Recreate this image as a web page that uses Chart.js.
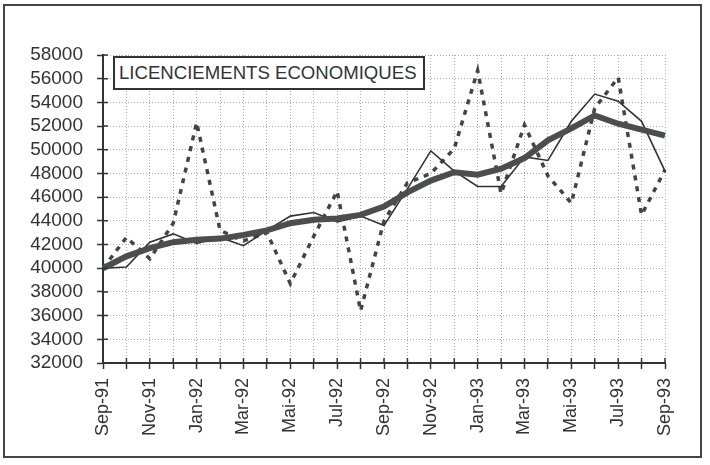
<!DOCTYPE html>
<html>
<head>
<meta charset="utf-8">
<script src="https://cdn.jsdelivr.net/npm/chart.js@4/dist/chart.umd.min.js"></script>
<style>
    body { margin: 0; background: #fff; }
    #cadre {
        position: absolute; left: 3px; top: 4px;
        width: 699px; height: 454px;
        box-sizing: border-box;
        border: 2px solid #444;
    }
    #titre {
        position: absolute; left: 113px; top: 56px;
        width: 312px; height: 34px;
        box-sizing: border-box;
        border: 2px solid #333;
        background: #fff;
        font: 18.6px "Liberation Sans", Arial, sans-serif;
        color: #333;
        line-height: 30px;
        padding-left: 4px;
        white-space: nowrap;
        z-index: 2;
    }
</style>
</head>
<body>
<div id="cadre"><canvas id="graphe" width="695" height="450"></canvas></div>
<div id="titre">LICENCIEMENTS ECONOMIQUES</div>
<script>
// Mois de Sep-91 à Sep-93
const mois = ['Sep-91', 'Oct-91', 'Nov-91', 'Dec-91', 'Jan-92', 'Fev-92', 'Mar-92', 'Avr-92',
    'Mai-92', 'Jun-92', 'Jul-92', 'Aou-92', 'Sep-92', 'Oct-92', 'Nov-92', 'Dec-92',
    'Jan-93', 'Fev-93', 'Mar-93', 'Avr-93', 'Mai-93', 'Jun-93', 'Jul-93', 'Aou-93', 'Sep-93'];

// Série brute (pointillés)
const brute = [40000, 42600, 40800, 43800, 52300, 43200, 42300, 43000,
    38700, 42700, 46500, 36400, 44000, 47200, 48000, 50100,
    56700, 46300, 52100, 47800, 45500, 53500, 56100, 44500, 48300];

// Série corrigée des variations saisonnières (trait fin)
const cvs = [40000, 40100, 42200, 42900, 42100, 42600, 41900, 43200,
    44400, 44700, 43900, 44400, 43600, 46700, 49900, 48200,
    46900, 46900, 49400, 49100, 52400, 54700, 54100, 52400, 48200];

// Tendance (trait épais)
const tendance = [40000, 41000, 41700, 42200, 42400, 42500, 42800, 43200,
    43800, 44100, 44200, 44500, 45200, 46400, 47400, 48100,
    47900, 48400, 49300, 50800, 51800, 52900, 52200, 51700, 51200];

const axeMin = 32000;
const axeMax = 58000;
const pas = 2000;

// Petites graduations vers l'intérieur (les axes ont des croix)
const graduationsInternes = {
    id: 'graduationsInternes',
    afterDatasetsDraw(chart) {
        const ctx = chart.ctx;
        const x = chart.scales.x;
        const y = chart.scales.y;
        ctx.save();
        ctx.strokeStyle = '#333';
        ctx.lineWidth = 1.5;
        ctx.beginPath();
        x.ticks.forEach((t, i) => {
            const px = x.getPixelForTick(i);
            ctx.moveTo(px, y.bottom);
            ctx.lineTo(px, y.bottom - 5);
        });
        y.ticks.forEach((t, i) => {
            const py = y.getPixelForTick(i);
            ctx.moveTo(x.left, py);
            ctx.lineTo(x.left + 5, py);
        });
        ctx.stroke();
        ctx.restore();
    }
};

const police = { family: '"Liberation Sans", Arial, sans-serif', size: 18 };

new Chart(document.getElementById('graphe'), {
    type: 'line',
    data: {
        labels: mois,
        datasets: [{
            label: 'Tendance',
            data: tendance,
            borderColor: '#4a4f4e',
            borderWidth: 6,
            pointRadius: 0,
            tension: 0,
            order: 0
        }, {
            label: 'CVS',
            data: cvs,
            borderColor: '#333',
            borderWidth: 1.6,
            pointRadius: 0,
            tension: 0,
            order: 1
        }, {
            label: 'Brute',
            data: brute,
            borderColor: '#444',
            borderWidth: 3.5,
            borderDash: [5, 6],
            pointRadius: 0,
            tension: 0,
            order: 2
        }]
    },
    options: {
        responsive: false,
        devicePixelRatio: 1,
        animation: false,
        layout: { padding: { top: 49, right: 35, bottom: 0, left: 0 } },
        plugins: {
            legend: { display: false },
            tooltip: { enabled: false }
        },
        scales: {
            x: {
                afterFit: function(scale) { scale.height = 93; },
                border: { color: '#333', width: 2, dash: [1, 2] },
                grid: {
                    color: '#aaa',
                    lineWidth: 1,
                    tickLength: 6,
                    tickColor: '#333',
                    tickWidth: 1.5,
                    tickBorderDash: []
                },
                ticks: {
                    autoSkip: false,
                    minRotation: 90,
                    maxRotation: 90,
                    padding: 9,
                    color: '#333',
                    font: police,
                    callback: function(value, index) {
                        return index % 2 === 0 ? this.getLabelForValue(value) : '';
                    }
                }
            },
            y: {
                min: axeMin,
                max: axeMax,
                afterFit: function(scale) { scale.width = 98; },
                border: { color: '#333', width: 2, dash: [1, 2] },
                grid: {
                    color: '#aaa',
                    lineWidth: 1,
                    tickLength: 6,
                    tickColor: '#333',
                    tickWidth: 1.5,
                    tickBorderDash: []
                },
                ticks: {
                    stepSize: pas,
                    autoSkip: false,
                    padding: 14,
                    color: '#333',
                    font: { family: police.family, size: 19 },
                    callback: function(value) { return String(value); }
                }
            }
        }
    },
    plugins: [graduationsInternes]
});
</script>
</body>
</html>
